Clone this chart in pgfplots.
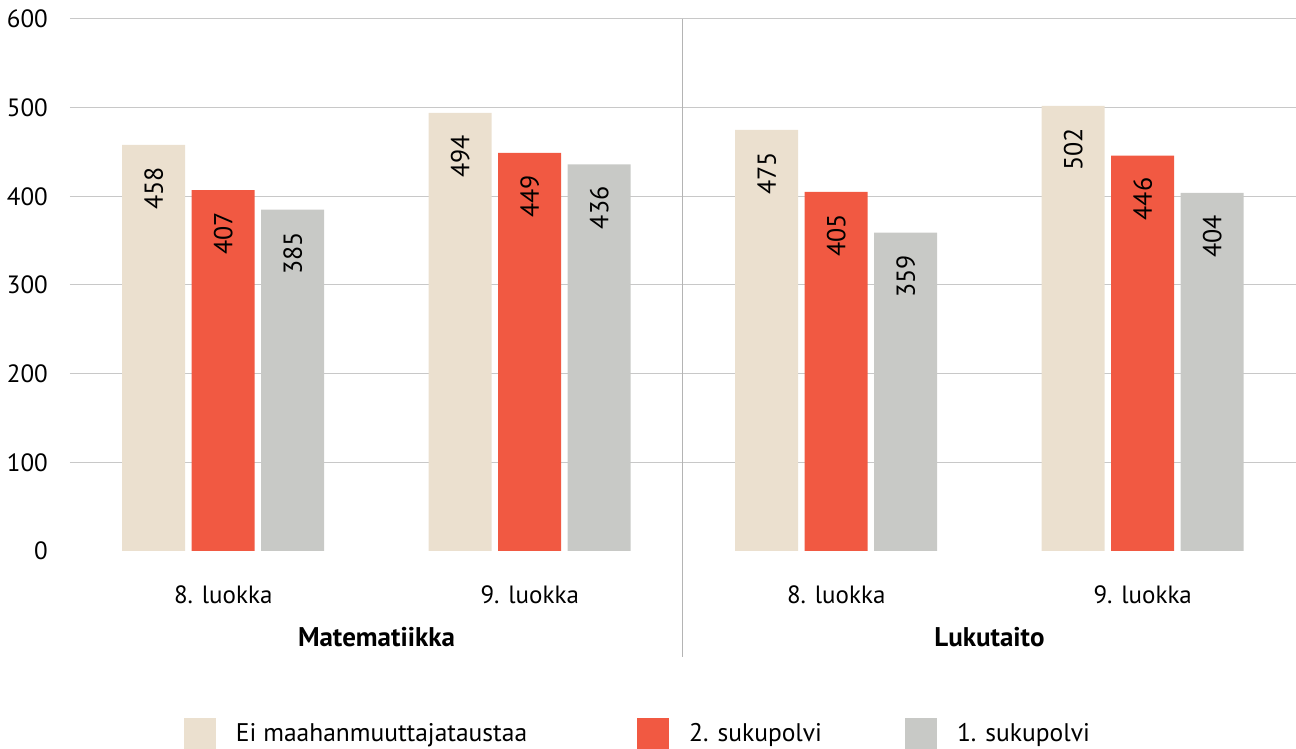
\documentclass[border=0pt]{standalone}
\usepackage{fontspec}
\setmainfont{PT Sans}
\usepackage{pgfplots}
\pgfplotsset{compat=1.18}
\definecolor{cbeige}{RGB}{235,224,207}
\definecolor{cred}{RGB}{241,89,66}
\definecolor{cgrey}{RGB}{200,201,198}
\definecolor{cgrid}{RGB}{200,200,200}
\begin{document}
\begin{tikzpicture}
\useasboundingbox (-70pt,-198pt) rectangle (1226pt,551pt);
\begin{axis}[
  at={(0pt,0pt)}, anchor=south west,
  scale only axis, width=1226pt, height=532pt,
  xmin=-0.5, xmax=3.5, ymin=0, ymax=600,
  axis line style={draw=none},
  major tick style={draw=none},
  ytick={100,200,...,600},
  extra y ticks={0},
  extra y tick style={grid=none},
  ymajorgrids, grid style={cgrid, line width=1pt},
  xtick={0,1,2,3},
  xticklabels={8. luokka,9. luokka,8. luokka,9. luokka},
  font=\fontsize{25}{29}\selectfont,
  /pgf/number format/assume math mode=true,
  yticklabel style={anchor=east, inner sep=0pt, xshift=-22pt},
  xticklabel style={anchor=base, inner sep=0pt, yshift=-48pt},
  ybar, bar width=63pt,
  clip=false,
  nodes near coords,
  every node near coord/.append style={rotate=90, anchor=east, inner xsep=22pt, inner ysep=0pt, font=\fontsize{26}{30}\selectfont, text=black},
  legend columns=3,
  legend style={draw=none, inner sep=0pt, outer sep=0pt, at={(114pt,-182.5pt)}, anchor=west, font=\fontsize{25.5}{29}\selectfont, /tikz/column 2/.style={column sep=110pt}, /tikz/column 4/.style={column sep=83pt}, nodes={inner sep=0pt}},
  legend image code/.code={\fill[#1] (0pt,-16pt) rectangle (32pt,16pt); \path (52pt,0pt);},
]
\addplot[fill=cbeige, draw=none, bar shift=-69.5pt] coordinates {(0,458) (1,494) (2,475) (3,502)};
\addplot[fill=cred, draw=none, bar shift=0pt] coordinates {(0,407) (1,449) (2,405) (3,446)};
\addplot[fill=cgrey, draw=none, bar shift=69.5pt] coordinates {(0,385) (1,436) (2,359) (3,404)};
\legend{Ei maahanmuuttajataustaa, 2. sukupolvi, 1. sukupolvi}
\draw[cgrid!90!black, line width=1pt] (axis cs:1.5,600) -- ++(0pt,-638pt);
\node[anchor=base, font=\fontsize{27}{31}\selectfont\bfseries] at ([yshift=-95pt]axis cs:0.5,0) {Matematiikka};
\node[anchor=base, font=\fontsize{27}{31}\selectfont\bfseries] at ([yshift=-95pt]axis cs:2.5,0) {Lukutaito};
\end{axis}
\end{tikzpicture}
\end{document}
